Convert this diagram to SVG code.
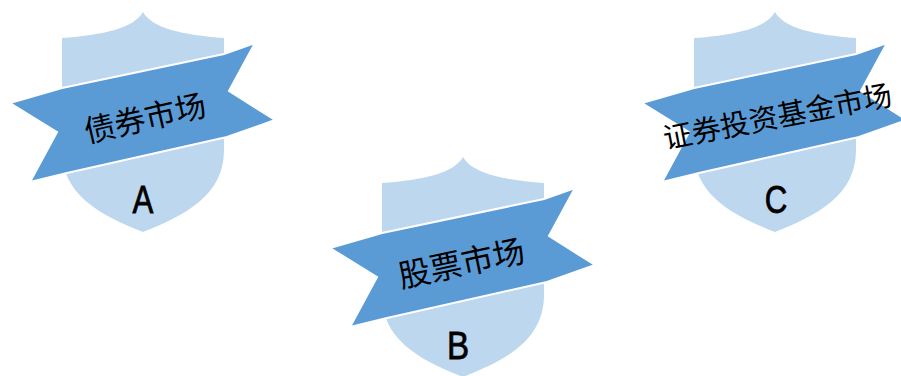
<svg xmlns="http://www.w3.org/2000/svg" xmlns:xlink="http://www.w3.org/1999/xlink" width="901" height="376" viewBox="0 0 901 376">
  <style>
    .shield { fill: #BDD7EE; }
    .ribbon { fill: #5B9BD5; stroke: #FFFFFF; stroke-width: 2; stroke-linejoin: miter; }
    .label { font-family: "Noto Sans CJK SC", "Noto Sans", sans-serif; fill: #000000; text-anchor: middle; dominant-baseline: central; }
    .letter { font-family: "Liberation Sans", "DejaVu Sans", sans-serif; font-size: 39px; fill: #000000; stroke: #000000; stroke-width: 0.8; text-anchor: middle; }
  </style>
  <defs>
    <path id="shieldShape" class="shield" d="M62,38 C104,35 134,28 143,12 C152,28 182,35 224,38 L224,150 C224,195 186,215 143,232 C100,215 62,195 62,150 Z"/>
    <polygon id="ribbonShape" class="ribbon" points="10,103 62,88 224,54 255,43 229,91 275,120 227,137 67,173 30,182 57,132"/>
  </defs>
  <rect width="901" height="376" fill="#FFFFFF"/>
  <g id="node-a">
    <use xlink:href="#shieldShape" href="#shieldShape"/>
    <use xlink:href="#ribbonShape" href="#ribbonShape"/>
    <text class="label" font-size="31" transform="translate(144.5,116) rotate(-13)">债券市场</text>
    <text class="letter" transform="translate(143,213) scale(0.8,1)">A</text>
  </g>
  <g id="node-b">
    <g transform="translate(320,145)">
      <use xlink:href="#shieldShape" href="#shieldShape"/>
      <use xlink:href="#ribbonShape" href="#ribbonShape"/>
    </g>
    <text class="label" font-size="32" transform="translate(461,261) rotate(-12)">股票市场</text>
    <text class="letter" transform="translate(458,359) scale(0.85,1)">B</text>
  </g>
  <g id="node-c">
    <g transform="translate(632,0)">
      <use xlink:href="#shieldShape" href="#shieldShape"/>
      <use xlink:href="#ribbonShape" href="#ribbonShape"/>
    </g>
    <text class="label" font-size="29" transform="translate(777,114) rotate(-11)">证券投资基金市场</text>
    <text class="letter" transform="translate(776,213) scale(0.8,1)">C</text>
  </g>
  <g id="connectors"/>
</svg>
